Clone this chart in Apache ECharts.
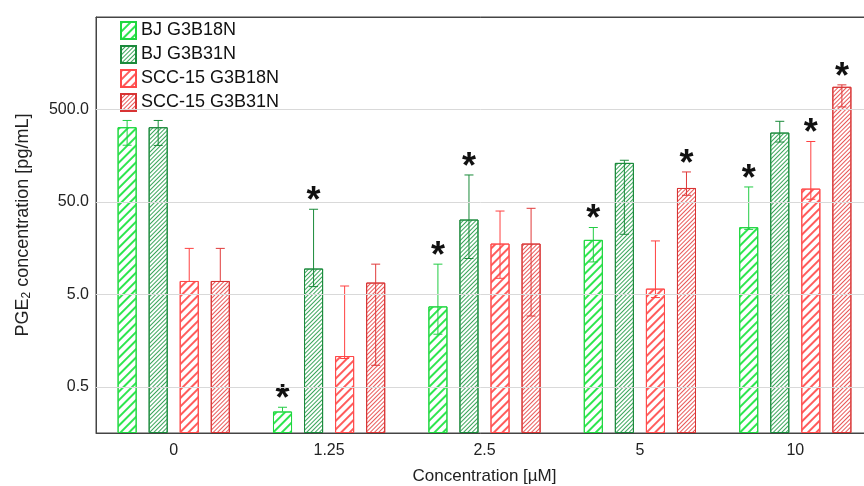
<!DOCTYPE html>
<html>
<head>
<meta charset="utf-8">
<script src="https://cdn.jsdelivr.net/npm/echarts@6/dist/echarts.min.js"></script>
<style>html,body{margin:0;padding:0;background:#fff;}#c{width:864px;height:486px;}</style>
</head>
<body>
<div id="c"></div>
<script>
// ---- data ----
const categories = ['0', '1.25', '2.5', '5', '10'];
const seriesNames = ['BJ G3B18N', 'BJ G3B31N', 'SCC-15 G3B18N', 'SCC-15 G3B31N'];
const yTicks = [0.5, 5, 50, 500];

const bjB18Mean = [321, 0.27, 3.7, 19.4, 26.6];
const bjB18Low  = [205, null, 1.85, 11.2, 25.2];
const bjB18High = [380, 0.30, 10.6, 26.4, 72.5];
const bjB18Sig  = [0, 1, 1, 1, 1];

const bjB31Mean = [321, 9.5, 32.2, 132, 281];
const bjB31Low  = [204, 6.06, 12.2, 22.3, 222];
const bjB31High = [380, 41.6, 97.7, 141, 372];
const bjB31Sig  = [0, 1, 1, 0, 0];

const sccB18Mean = [6.97, 1.075, 17.7, 5.76, 69.6];
const sccB18Low  = [null, 1.01, 7.45, 4.61, 53.4];
const sccB18High = [15.7, 6.15, 39.8, 18.9, 225];
const sccB18Sig  = [0, 0, 0, 0, 1];

const sccB31Mean = [6.97, 6.70, 17.7, 70.7, 879];
const sccB31Low  = [null, 0.853, 2.91, 58.9, 532];
const sccB31High = [15.7, 10.6, 42.6, 105.4, 922];
const sccB31Sig  = [0, 0, 0, 1, 1];

const means = [bjB18Mean, bjB31Mean, sccB18Mean, sccB31Mean];
const lows  = [bjB18Low, bjB31Low, sccB18Low, sccB31Low];
const highs = [bjB18High, bjB31High, sccB18High, sccB31High];
const sigs  = [bjB18Sig, bjB31Sig, sccB18Sig, sccB31Sig];

// ---- styling ----
const FONT = 'Liberation Sans, Arial, sans-serif';
const BAR_FRAC = 0.1226;   // bar width / category band
const GAP_FRAC = 0.63;     // gap / bar width
const styles = [
  {border: '#1fd63f', stripe: '#2ee64e', err: '#22cc44', w: 1.4, gap: 3.6},
  {border: '#1b8a3c', stripe: '#3aa55a', err: '#1a8a3a', w: 1.0, gap: 1.4},
  {border: '#ff4a4a', stripe: '#ff5c5c', err: '#ff4040', w: 1.4, gap: 3.6},
  {border: '#d83434', stripe: '#e85858', err: '#e03a3a', w: 1.0, gap: 1.4}
];

const barSeries = seriesNames.map((name, i) => ({
  name: name,
  type: 'bar',
  z: 2,
  barWidth: (BAR_FRAC * 100) + '%',
  barGap: (GAP_FRAC * 100) + '%',
  itemStyle: {
    color: '#ffffff',
    borderColor: styles[i].border,
    borderWidth: 1,
    decal: {
      symbol: 'rect',
      symbolSize: 1,
      color: styles[i].stripe,
      dashArrayX: [1, 0],
      dashArrayY: [styles[i].w, styles[i].gap],
      rotation: -Math.PI / 4
    }
  },
  data: means[i]
}));

const errSeries = seriesNames.map((name, i) => ({
  name: name,
  type: 'custom',
  z: 3,
  silent: true,
  data: categories.map((c, k) => [k, means[i][k], lows[i][k] == null ? '-' : lows[i][k], highs[i][k], sigs[i][k]]),
  encode: {x: 0, y: [1, 3]},
  renderItem: function (params, api) {
    const k = api.value(0);
    const mean = api.value(1);
    const lo = api.value(2);
    const hi = api.value(3);
    const sig = api.value(4);
    const band = api.size([1, 1])[0];
    const bw = band * BAR_FRAC;
    const step = bw * (1 + GAP_FRAC);
    const cx = api.coord([k, mean])[0] + (i - 1.5) * step;
    const yMean = api.coord([k, mean])[1];
    const yHi = api.coord([k, hi])[1];
    const yLo = (lo == null || isNaN(lo)) ? yMean : api.coord([k, lo])[1];
    const cap = 4.5;
    const ls = {stroke: styles[i].err, lineWidth: 1};
    const children = [
      {type: 'line', shape: {x1: cx, y1: yHi, x2: cx, y2: yLo}, style: ls},
      {type: 'line', shape: {x1: cx - cap, y1: yHi, x2: cx + cap, y2: yHi}, style: ls}
    ];
    if (!(lo == null || isNaN(lo))) {
      children.push({type: 'line', shape: {x1: cx - cap, y1: yLo, x2: cx + cap, y2: yLo}, style: ls});
    }
    if (sig) {
      children.push({type: 'text', style: {text: '*', x: cx, y: yHi - 7, fill: '#111', font: 'bold 36px ' + FONT, align: 'center', verticalAlign: 'middle'}});
    }
    return {type: 'group', children: children};
  }
}));

const gridSeries = {
  name: 'grid',
  type: 'line',
  z: 0,
  data: [],
  silent: true,
  markLine: {
    silent: true,
    symbol: 'none',
    animation: false,
    lineStyle: {color: '#d9d9d9', type: 'solid', width: 1},
    label: {position: 'start', distance: 7, color: '#222', fontSize: 16, fontFamily: FONT,
      formatter: p => Number(p.value).toFixed(1)},
    data: yTicks.map(v => ({yAxis: v}))
  }
};

const chart = echarts.init(document.getElementById('c'), null, {renderer: 'canvas'});
chart.setOption({
  animation: false,
  backgroundColor: '#ffffff',
  grid: {left: 96, width: 777, top: 17, bottom: 53, outerBoundsMode: 'none', containLabel: false,
    show: true, borderColor: '#444', borderWidth: 1, backgroundColor: 'transparent'},
  legend: {
    data: seriesNames,
    orient: 'vertical',
    left: 115,
    top: 16,
    icon: 'rect',
    itemWidth: 15,
    itemHeight: 17,
    itemGap: 5,
    textStyle: {fontSize: 18, color: '#111', fontFamily: FONT, padding: [0, 0, 0, 0]},
    selectedMode: false
  },
  xAxis: [{
    type: 'category',
    data: categories,
    position: 'bottom',
    name: 'Concentration [µM]',
    nameLocation: 'middle',
    nameGap: 35,
    nameTextStyle: {fontSize: 17, color: '#222', fontFamily: FONT},
    axisLine: {lineStyle: {color: '#444'}},
    axisTick: {inside: true, alignWithLabel: true, length: 3, lineStyle: {color: '#444'}},
    axisLabel: {fontSize: 16, color: '#222', fontFamily: FONT, margin: 10},
    splitLine: {show: false}
  }, {
    type: 'category',
    data: categories,
    position: 'top',
    axisLine: {lineStyle: {color: '#444'}},
    axisTick: {inside: true, alignWithLabel: true, length: 3, lineStyle: {color: '#444'}},
    axisLabel: {show: false},
    splitLine: {show: false}
  }],
  yAxis: {
    type: 'log',
    logBase: 10,
    min: 0.158,
    max: 5000,
    startValue: 0.158,
    name: 'PGE{sub|2} concentration [pg/mL]',
    nameLocation: 'middle',
    nameGap: 63,
    nameTextStyle: {fontSize: 18, color: '#222', fontFamily: FONT,
      rich: {sub: {fontSize: 12, fontFamily: FONT, color: '#222', verticalAlign: 'bottom', padding: [8, 0, 0, 0]}}},
    axisLine: {show: true, lineStyle: {color: '#444'}},
    axisTick: {show: false},
    axisLabel: {show: false},
    splitLine: {show: false}
  },
  series: [gridSeries].concat(barSeries, errSeries)
});
</script>
</body>
</html>
